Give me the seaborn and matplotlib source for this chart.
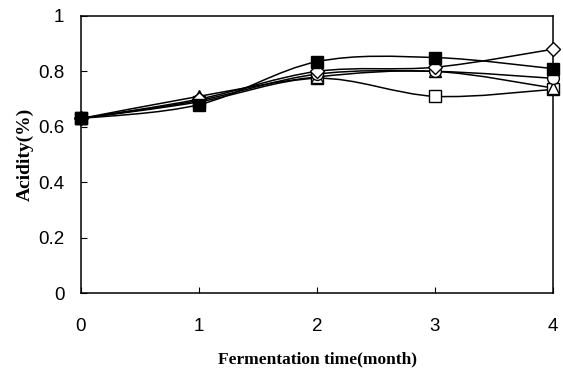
import numpy as np
import pandas as pd
import matplotlib
matplotlib.use("Agg")
import matplotlib.pyplot as plt
import seaborn as sns
from matplotlib.path import Path
from matplotlib.patches import PathPatch

months = [0, 1, 2, 3, 4]
open_square = [0.63, 0.69, 0.775, 0.71, 0.735]
open_triangle = [0.63, 0.71, 0.78, 0.80, 0.74]
open_circle = [0.63, 0.695, 0.79, 0.80, 0.775]
open_diamond = [0.63, 0.70, 0.80, 0.815, 0.88]
filled_square = [0.63, 0.68, 0.835, 0.85, 0.81]

series = [
    ("open square", open_square, "s", "white"),
    ("open triangle", open_triangle, "^", "white"),
    ("open circle", open_circle, "o", "white"),
    ("open diamond", open_diamond, "D", "white"),
    ("filled square", filled_square, "s", "black"),
]

sns.set_theme(style="white")
plt.rcParams["font.family"] = ["Liberation Sans", "DejaVu Sans"]

fig = plt.figure(figsize=(5.63, 3.72), dpi=100)
ax = fig.add_axes([81 / 563, 1 - 293 / 372, (553 - 81) / 563, (293 - 16) / 372])


def smooth_path(x, y):
    # Excel-style smoothed line: cubic Bezier through points (Catmull-Rom control points)
    x = np.asarray(x, float)
    y = np.asarray(y, float)
    n = len(x)
    verts = [(x[0], y[0])]
    codes = [Path.MOVETO]
    for i in range(n - 1):
        x0, y0 = (x[i - 1], y[i - 1]) if i > 0 else (x[i], y[i])
        x3, y3 = (x[i + 2], y[i + 2]) if i + 2 < n else (x[i + 1], y[i + 1])
        c1 = (x[i] + (x[i + 1] - x0) / 6, y[i] + (y[i + 1] - y0) / 6)
        c2 = (x[i + 1] - (x3 - x[i]) / 6, y[i + 1] - (y3 - y[i]) / 6)
        verts += [c1, c2, (x[i + 1], y[i + 1])]
        codes += [Path.CURVE4] * 3
    return Path(verts, codes)


for name, vals, mk, fc in series:
    ax.add_patch(PathPatch(smooth_path(months, vals), fill=False, edgecolor="black",
                           lw=1.1, zorder=2, clip_on=False))

for name, vals, mk, fc in series:
    df = pd.DataFrame({"month": months, "acidity": vals})
    ms = 7.5 if mk == "D" else 8.5
    sns.lineplot(data=df, x="month", y="acidity", ax=ax, marker=mk, linestyle="",
                 markersize=ms, markerfacecolor=fc, markeredgecolor="black",
                 markeredgewidth=1.0, color="black", zorder=3, clip_on=False)

ax.set_xlim(0, 4)
ax.set_ylim(0, 1)
ax.set_xticks([0, 1, 2, 3, 4])
ax.set_xticklabels(["0", "1", "2", "3", "4"])
ax.set_yticks([0, 0.2, 0.4, 0.6, 0.8, 1.0])
ax.set_yticklabels(["0", "0.2", "0.4", "0.6", "0.8", "1"])
ax.tick_params(axis="x", direction="in", length=4, width=0.8, pad=18, labelsize=13.5, colors="black")
ax.tick_params(axis="y", direction="in", length=4, width=0.8, pad=12, labelsize=13.5, colors="black")
ax.tick_params(axis="both", which="both", bottom=True, left=True, top=False, right=False)
for sp in ax.spines.values():
    sp.set_color("black")
    sp.set_linewidth(1.1)

ax.set_xlabel("Fermentation time(month)", family=["Liberation Serif", "DejaVu Serif"],
              fontweight="bold", fontsize=12.5, labelpad=12, color="black")
ax.set_ylabel("Acidity(%)", family=["Liberation Serif", "DejaVu Serif"],
              fontweight="bold", fontsize=14, labelpad=3, color="black")

fig.savefig("out.png", dpi=100, facecolor="white")
